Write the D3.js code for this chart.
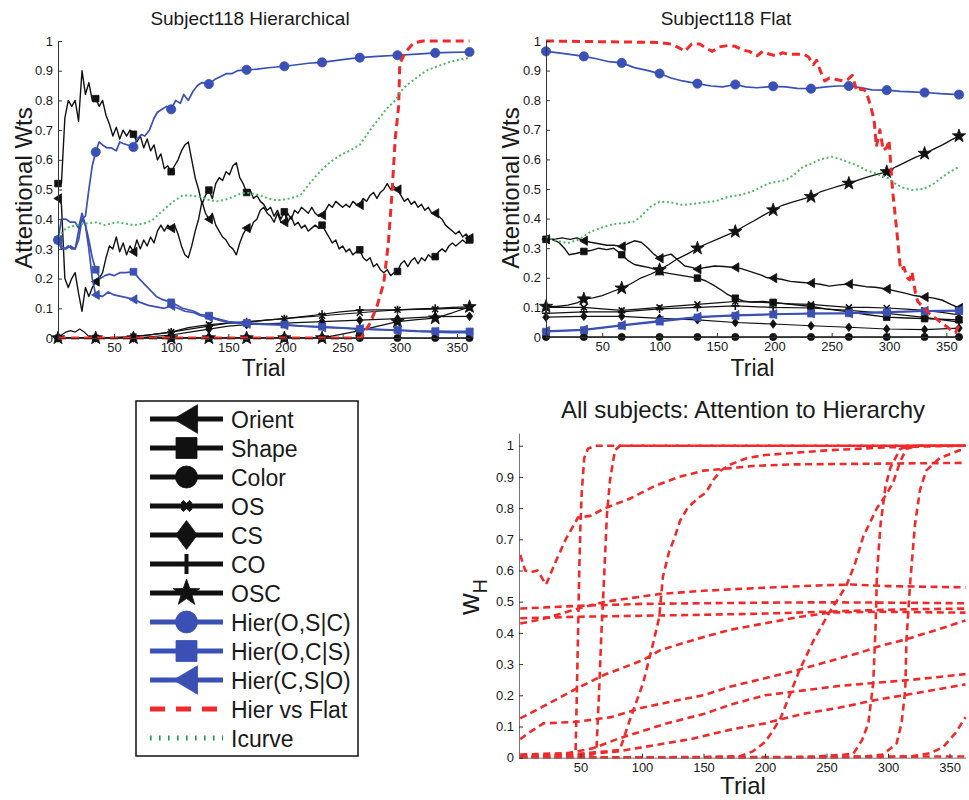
<!DOCTYPE html>
<html>
<head>
<meta charset="utf-8">
<script src="https://cdn.jsdelivr.net/npm/d3@7/dist/d3.min.js"></script>
<style>
  body { margin: 0; background: #fff; }
  svg { display: block; }
  text { font-family: "Liberation Sans", Arial, Helvetica, sans-serif; }
</style>
</head>
<body>
<svg id="fig" width="969" height="800"></svg>
<script>
// ---------- shared ticks and labels ----------
const trialTicks = [50, 100, 150, 200, 250, 300, 350];
const weightTicks = [0, 0.1, 0.2, 0.3, 0.4, 0.5, 0.6, 0.7, 0.8, 0.9, 1];
const markerTrials = [1, 34, 67, 100, 133, 166, 199, 232, 265, 298, 331, 361];
const legendLabels = ["Orient", "Shape", "Color", "OS", "CS", "CO", "OSC",
  "Hier(O,S|C)", "Hier(O,C|S)", "Hier(C,S|O)", "Hier vs Flat", "Icurve"];

// ---------- Subject118, hierarchical model ----------
// single-dimension weights, sampled every 3 trials (1, 4, ..., 361)
const hierTrials = d3.range(1, 362, 3);
const hierOrient = [.47,.45,.20,.17,.20,.22,.15,.09,.17,.14,.17,.19,.20,.22,.27,.31,.30,.34,.29,.32,.28,.31,.29,.33,.30,.33,.31,.34,.32,.36,.38,.36,.38,.37,.38,.35,.31,.28,.27,.31,.36,.40,.46,.42,.40,.42,.38,.36,.34,.33,.31,.30,.28,.32,.35,.37,.36,.39,.40,.43,.44,.42,.41,.39,.42,.39,.39,.42,.40,.43,.42,.44,.43,.42,.44,.42,.41,.414,.43,.45,.44,.46,.45,.44,.45,.44,.46,.45,.448,.47,.46,.48,.49,.47,.49,.50,.52,.50,.51,.50,.48,.46,.47,.45,.46,.44,.45,.43,.44,.42,.42,.41,.40,.38,.37,.36,.35,.36,.34,.35,.336];
const hierShape = [.52,.52,.74,.80,.78,.80,.73,.90,.82,.86,.80,.806,.78,.80,.75,.72,.68,.71,.67,.70,.68,.70,.686,.66,.68,.64,.67,.63,.65,.60,.62,.57,.58,.56,.58,.60,.63,.65,.66,.60,.54,.50,.45,.48,.498,.47,.52,.54,.53,.56,.55,.58,.59,.54,.52,.49,.50,.47,.48,.46,.45,.43,.44,.41,.43,.40,.425,.39,.41,.38,.39,.37,.38,.36,.37,.38,.37,.38,.36,.34,.32,.33,.30,.31,.29,.30,.28,.29,.297,.27,.26,.27,.24,.25,.23,.22,.23,.21,.22,.224,.25,.26,.24,.26,.27,.25,.27,.26,.28,.27,.274,.29,.30,.29,.31,.32,.31,.32,.33,.32,.33];
// [trial, weight] pairs
const hierColor = [[1,0],[361,0]];
const hierOS = [[1,0],[4,.01],[8,.02],[12,.025],[16,.02],[20,.03],[24,.02],[28,.005],[34,0],[50,0],[67,.005],[80,.01],[100,.02],[115,.035],[133,.045],[150,.05],[166,.052],[183,.06],[199,.065],[215,.07],[232,.075],[248,.08],[265,.085],[281,.09],[298,.095],[315,.096],[331,.097],[345,.1],[361,.1]];
const hierCS = [[1,0],[67,0],[84,.005],[100,.01],[116,.02],[133,.03],[150,.04],[166,.045],[199,.05],[232,.055],[265,.06],[298,.065],[331,.072],[361,.073]];
const hierCO = [[1,0],[34,0],[50,.002],[67,.005],[84,.012],[100,.02],[116,.03],[133,.04],[150,.05],[166,.055],[183,.06],[199,.065],[215,.072],[232,.08],[248,.088],[265,.094],[281,.095],[298,.095],[315,.098],[331,.1],[346,.103],[361,.105]];
const hierOSC = [[1,0],[232,0],[245,.01],[265,.025],[281,.04],[298,.055],[315,.062],[331,.067],[346,.085],[361,.105]];
const hierHosc = [[1,.33],[4,.3],[7,.3],[10,.31],[13,.3],[16,.3],[19,.36],[22,.4],[25,.41],[28,.5],[31,.58],[34,.626],[37,.66],[40,.65],[44,.64],[48,.64],[52,.63],[55,.66],[58,.655],[62,.65],[67,.643],[70,.67],[74,.685],[77,.68],[81,.7],[85,.74],[88,.76],[92,.77],[96,.78],[100,.77],[104,.8],[108,.79],[111,.82],[115,.8],[119,.83],[123,.85],[127,.86],[133,.855],[138,.87],[143,.88],[148,.89],[153,.89],[158,.9],[166,.903],[175,.905],[185,.91],[199,.915],[210,.92],[220,.925],[232,.928],[245,.935],[255,.94],[265,.944],[280,.948],[298,.952],[315,.956],[331,.96],[345,.962],[361,.963]];
const hierHocs = [[1,.33],[4,.4],[8,.4],[12,.39],[16,.39],[19,.37],[22,.42],[25,.38],[28,.33],[31,.27],[34,.23],[38,.2],[42,.21],[46,.215],[50,.21],[55,.22],[60,.22],[67,.223],[72,.2],[77,.18],[82,.16],[87,.14],[92,.13],[96,.125],[100,.12],[105,.11],[110,.1],[115,.095],[120,.09],[125,.08],[133,.075],[140,.065],[150,.055],[166,.05],[180,.048],[199,.045],[215,.04],[232,.038],[250,.034],[265,.031],[280,.029],[298,.027],[315,.024],[331,.023],[345,.022],[361,.022]];
const hierHcso = [[1,.33],[4,.31],[8,.3],[12,.31],[16,.3],[19,.33],[22,.4],[25,.38],[28,.3],[31,.2],[34,.145],[40,.14],[45,.155],[50,.145],[56,.14],[62,.135],[67,.13],[73,.12],[80,.11],[87,.105],[94,.1],[100,.108],[106,.1],[112,.09],[120,.085],[126,.075],[133,.07],[142,.06],[150,.052],[166,.048],[180,.046],[199,.043],[215,.04],[232,.036],[250,.033],[265,.03],[280,.028],[298,.026],[315,.022],[331,.02],[345,.018],[361,.018]];
const hierVsFlatH = [[1,0],[265,0],[267,.005],[274,.05],[280,.106],[286,.185],[290,.32],[293,.476],[296,.67],[299,.78],[300,.924],[305,.963],[312,.993],[320,1],[361,1]];
const icurveH = [[1,.34],[8,.37],[17,.38],[25,.385],[35,.39],[42,.38],[52,.39],[60,.385],[67,.38],[76,.385],[83,.395],[90,.42],[96,.44],[102,.46],[110,.48],[118,.48],[125,.475],[133,.465],[140,.46],[147,.465],[154,.475],[160,.485],[166,.49],[172,.485],[178,.48],[185,.47],[190,.465],[197,.465],[204,.47],[213,.48],[221,.52],[230,.56],[237,.585],[242,.6],[250,.62],[256,.63],[265,.65],[274,.7],[282,.74],[288,.77],[296,.8],[303,.84],[309,.86],[316,.88],[323,.9],[333,.915],[344,.93],[352,.937],[361,.943]];

// ---------- Subject118, flat model ----------
const flatOrient = [[1,.33],[8,.33],[15,.335],[22,.33],[28,.335],[34,.325],[40,.32],[47,.315],[54,.31],[60,.31],[67,.306],[72,.315],[78,.325],[84,.32],[90,.3],[95,.28],[100,.266],[105,.275],[110,.28],[116,.26],[122,.24],[128,.235],[133,.229],[140,.235],[148,.24],[156,.238],[166,.235],[172,.23],[180,.22],[188,.21],[194,.2],[199,.199],[206,.195],[214,.188],[222,.185],[232,.182],[240,.178],[248,.172],[256,.176],[265,.179],[272,.175],[280,.17],[288,.168],[298,.162],[306,.155],[314,.148],[322,.14],[331,.135],[338,.132],[346,.125],[354,.11],[361,.098]];
const flatShape = [[1,.33],[6,.33],[12,.32],[17,.3],[21,.278],[27,.282],[34,.289],[40,.292],[47,.3],[54,.295],[60,.3],[67,.278],[72,.26],[78,.245],[84,.24],[90,.235],[95,.23],[100,.221],[108,.215],[116,.21],[124,.205],[133,.199],[140,.19],[147,.175],[154,.158],[160,.142],[166,.131],[173,.122],[180,.118],[190,.12],[199,.117],[210,.112],[220,.108],[232,.103],[245,.095],[255,.09],[265,.085],[280,.076],[298,.067],[315,.064],[331,.062],[345,.06],[361,.058]];
const flatColor = [[1,0],[361,0]];
const flatOS = [[1,.1],[20,.1],[34,.1],[50,.095],[67,.09],[84,.095],[100,.1],[116,.105],[133,.11],[150,.115],[166,.12],[183,.118],[199,.115],[215,.112],[232,.11],[248,.105],[265,.1],[281,.1],[298,.098],[315,.094],[331,.09],[346,.083],[361,.075]];
const flatCS = [[1,.067],[34,.07],[67,.07],[100,.063],[133,.058],[166,.049],[199,.044],[232,.038],[265,.033],[298,.027],[331,.025],[361,.03]];
const flatCO = [[1,.08],[34,.085],[67,.085],[100,.095],[133,.1],[166,.105],[199,.1],[232,.098],[265,.09],[298,.08],[331,.066],[361,.05]];
const flatOSC = [[1,.103],[10,.103],[20,.108],[28,.115],[34,.128],[42,.132],[50,.14],[58,.152],[67,.165],[75,.18],[84,.2],[92,.212],[100,.227],[108,.245],[116,.265],[124,.28],[133,.3],[141,.315],[150,.33],[158,.343],[166,.356],[174,.375],[182,.392],[190,.41],[199,.429],[207,.445],[215,.455],[224,.465],[232,.474],[240,.49],[248,.5],[256,.51],[265,.519],[273,.53],[281,.54],[290,.55],[298,.558],[306,.575],[314,.59],[322,.605],[331,.62],[339,.635],[347,.65],[354,.665],[361,.679]];
const flatHosc = [[1,.965],[12,.96],[25,.953],[34,.948],[45,.94],[56,.93],[67,.926],[78,.91],[90,.9],[100,.89],[110,.875],[120,.865],[133,.856],[145,.848],[155,.845],[166,.853],[175,.845],[185,.842],[199,.847],[210,.845],[220,.84],[232,.839],[245,.845],[255,.848],[265,.848],[275,.843],[285,.835],[298,.834],[310,.83],[320,.828],[331,.826],[345,.822],[361,.819]];
const flatHocs = [[1,.018],[34,.023],[67,.038],[100,.052],[133,.066],[166,.072],[199,.076],[232,.079],[265,.08],[298,.083],[331,.087],[361,.088]];
const flatHcso = [[1,.02],[34,.025],[67,.04],[100,.055],[133,.068],[166,.074],[199,.077],[232,.08],[265,.08],[298,.085],[331,.088],[361,.09]];
const hierVsFlatF = [[1,1],[100,.995],[110,.99],[118,.975],[122,.965],[128,.99],[135,.99],[141,.975],[146,.965],[152,.98],[160,.985],[166,.982],[172,.97],[178,.965],[185,.95],[190,.965],[196,.955],[202,.95],[207,.96],[213,.955],[220,.955],[226,.955],[230,.945],[234,.92],[237,.935],[240,.9],[244,.865],[248,.875],[254,.87],[260,.865],[264,.87],[268,.884],[272,.83],[276,.84],[280,.83],[284,.78],[287,.733],[289,.643],[292,.7],[295,.63],[298,.64],[300,.665],[303,.5],[307,.35],[310,.227],[313,.235],[316,.2],[318,.193],[320,.22],[323,.15],[325,.12],[330,.1],[335,.08],[345,.05],[352,.03],[355,.02],[358,.015],[361,.04]];
const icurveF = [[1,.339],[10,.325],[20,.317],[30,.33],[40,.356],[50,.37],[60,.382],[70,.385],[78,.39],[85,.412],[92,.44],[100,.457],[110,.455],[120,.446],[130,.45],[140,.455],[150,.46],[160,.474],[170,.48],[180,.49],[195,.519],[210,.53],[218,.55],[225,.575],[232,.585],[240,.6],[250,.609],[258,.6],[265,.59],[272,.58],[280,.564],[290,.55],[298,.54],[305,.519],[312,.505],[320,.497],[330,.5],[338,.515],[345,.536],[352,.555],[361,.575]];

// ---------- all subjects: w_H per trial ----------
const subjA = [[1,.65],[5,.6],[10,.595],[15,.6],[22,.555],[30,.63],[38,.7],[48,.77],[58,.775],[70,.8],[90,.83],[110,.87],[130,.9],[150,.92],[165,.925],[190,.935],[220,.94],[280,.942],[363,.945]];
const subjB = [[1,.003],[40,.01],[46,.02],[47,.2],[48,.4],[49,.6],[50,.75],[51,.85],[53,.96],[56,.99],[62,1],[363,1]];
const subjC = [[1,0],[40,.005],[60,.01],[63,.03],[65,.2],[67,.4],[68.5,.52],[70,.65],[71.5,.78],[74,.89],[78,.985],[82,1],[363,1]];
const subjD = [[1,.005],[40,.01],[70,.02],[82,.025],[90,.12],[101,.24],[109,.366],[114,.45],[117,.58],[122,.66],[126,.7],[131,.76],[137,.8],[145,.83],[152,.85],[158,.89],[164,.92],[172,.94],[185,.96],[200,.97],[250,.985],[300,.995],[363,1]];
const subjE = [[1,.126],[20,.165],[47,.222],[69,.265],[101,.313],[115,.345],[144,.38],[172,.41],[199,.43],[226,.45],[253,.465],[290,.468],[330,.466],[363,.465]];
const subjF = [[1,.478],[50,.487],[100,.493],[150,.495],[200,.497],[250,.498],[300,.497],[363,.495]];
const subjG = [[1,.43],[20,.445],[50,.48],[70,.5],[115,.525],[150,.535],[200,.545],[250,.553],[270,.555],[300,.55],[363,.546]];
const subjH = [[1,.447],[50,.452],[100,.455],[150,.458],[200,.462],[250,.468],[280,.472],[320,.476],[363,.478]];
const subjI = [[1,.059],[8,.08],[20,.11],[47,.115],[75,.13],[100,.16],[130,.185],[150,.2],[172,.228],[200,.255],[226,.28],[253,.31],[280,.34],[291,.355],[315,.38],[340,.41],[363,.44]];
const subjJ = [[1,.01],[40,.015],[60,.03],[80,.06],[100,.085],[120,.11],[150,.14],[172,.17],[200,.2],[230,.215],[260,.23],[290,.24],[320,.25],[363,.268]];
const subjK = [[1,.003],[50,.01],[80,.02],[110,.04],[140,.06],[172,.09],[200,.11],[230,.14],[260,.16],[290,.185],[320,.205],[363,.235]];
const subjL = [[1,0],[150,.002],[180,.005],[190,.02],[200,.05],[207,.09],[213,.13],[220,.2],[228,.28],[240,.38],[253,.47],[266,.55],[273,.62],[280,.71],[291,.8],[298,.84],[304,.88],[310,.95],[315,.99],[325,1],[363,1]];
const subjM = [[1,0],[200,0],[240,.003],[265,.01],[272,.014],[279,.057],[284,.11],[288,.24],[290,.43],[291,.59],[294,.75],[298,.87],[302,.93],[310,.99],[321,1],[363,1]];
const subjN = [[1,0],[250,0],[285,.005],[296,.01],[307,.046],[311,.11],[314,.217],[315,.377],[318,.56],[322,.75],[326,.858],[331,.92],[342,.96],[358,.985],[363,.986]];
const subjO = [[1,0],[300,.002],[320,.005],[335,.015],[345,.035],[355,.08],[363,.13]];
const subjP = [[1,0],[363,.004]];

// ---------- drawing ----------
const svg = d3.select("#fig");
const BLACK = "#111", BLUE = "#3a50b4", RED = "#f02a2a", GREEN = "#50b864", GREEN_DARK = "#1e9a48";
const FONT = '"Liberation Sans", Arial, Helvetica, sans-serif';

function starPath(R) {
  let p = "";
  for (let i = 0; i < 10; i++) {
    const r = i % 2 ? R * 0.4 : R;
    const a = -Math.PI / 2 + i * Math.PI / 5;
    p += (i ? "L" : "M") + (r * Math.cos(a)).toFixed(2) + "," + (r * Math.sin(a)).toFixed(2);
  }
  return p + "Z";
}
function markerPath(type, r) {
  switch (type) {
    case "circle": return d3.symbol(d3.symbolCircle, Math.PI * r * r)();
    case "square": return `M${-r},${-r}H${r}V${r}H${-r}Z`;
    case "triL": return `M${-r},0L${r * 0.85},${-r * 1.1}L${r * 0.85},${r * 1.1}Z`;
    case "diamond": return `M0,${-r * 1.2}L${r * 0.9},0L0,${r * 1.2}L${-r * 0.9},0Z`;
    case "star": return starPath(r);
    case "times": return `M${-r},${-r}L${r},${r}M${-r},${r}L${r},${-r}`;
    case "plus": return `M0,${-r}V${r}M${-r},0H${r}`;
  }
}
function drawMarker(g, type, cx, cy, r, color, sw) {
  const stroked = type === "times" || type === "plus";
  g.append("path")
    .attr("transform", `translate(${cx},${cy})`)
    .attr("d", markerPath(type, r))
    .attr("fill", stroked ? "none" : color)
    .attr("stroke", color)
    .attr("stroke-width", stroked ? sw : 0.8);
}
function valueAt(pts, t) {
  for (let i = 0; i < pts.length - 1; i++) {
    const [t0, v0] = pts[i], [t1, v1] = pts[i + 1];
    if (t >= t0 && t <= t1) return t1 === t0 ? v0 : v0 + (v1 - v0) * (t - t0) / (t1 - t0);
  }
  return pts[pts.length - 1][1];
}

// style for each legend entry (drawing order follows the legend)
const seriesStyles = [
  { color: BLACK, width: 1.4, marker: "triL", r: 4.2 },
  { color: BLACK, width: 1.4, marker: "square", r: 3.3 },
  { color: BLACK, width: 1.3, marker: "circle", r: 3.6 },
  { color: BLACK, width: 1.2, marker: "times", r: 3, sw: 1.6 },
  { color: BLACK, width: 1.2, marker: "diamond", r: 3.6 },
  { color: BLACK, width: 1.2, marker: "plus", r: 4, sw: 1.6 },
  { color: BLACK, width: 1.3, marker: "star", r: 7 },
  { color: BLUE, width: 1.7, marker: "circle", r: 4.6 },
  { color: BLUE, width: 1.7, marker: "square", r: 3.4 },
  { color: BLUE, width: 1.7, marker: "triL", r: 4.2 },
  { color: RED, width: 3, dash: "8,5" },
  { color: GREEN, width: 2, dash: "2,2.6" }
];

function drawAxes(g, x, y, yMaxTick) {
  const fmt = d => (d === 0 || d === 1) ? String(d) : d.toFixed(1);
  const xa = g.append("g").attr("transform", `translate(0,${y(0)})`)
    .call(d3.axisBottom(x).tickValues(trialTicks).tickSizeInner(-4).tickSizeOuter(0).tickPadding(5).tickFormat(d3.format("d")));
  const ya = g.append("g").attr("transform", `translate(${x.range()[0]},0)`)
    .call(d3.axisLeft(y).tickValues(weightTicks.filter(v => v <= yMaxTick)).tickSizeInner(-4).tickSizeOuter(0).tickPadding(5).tickFormat(fmt));
  [xa, ya].forEach(a => {
    a.attr("font-family", FONT).attr("font-size", 13);
    a.selectAll("text").attr("fill", "#1a1a1a");
    a.select(".domain").attr("stroke", "#333").attr("stroke-width", 1);
    a.selectAll(".tick line").attr("stroke", "#333");
  });
}

function drawSubjectPanel(series, x, y, title, titleX, ylabelX) {
  const g = svg.append("g");
  const line = d3.line().x(d => x(d[0])).y(d => y(d[1]));
  series.forEach((pts, i) => {
    const st = seriesStyles[i];
    g.append("path").attr("d", line(pts)).attr("fill", "none")
      .attr("stroke", st.color).attr("stroke-width", st.width)
      .attr("stroke-dasharray", st.dash || null).attr("stroke-linejoin", "round");
    if (st.marker) markerTrials.forEach(t => drawMarker(g, st.marker, x(t), y(valueAt(pts, t)), st.r, st.color, st.sw));
  });
  drawAxes(g, x, y, 1);
  g.append("text").attr("x", titleX).attr("y", 25).attr("text-anchor", "middle").attr("font-size", 19).attr("fill", "#1a1a1a").text(title);
  g.append("text").attr("x", (x.range()[0] + x.range()[1]) / 2).attr("y", 376).attr("text-anchor", "middle").attr("font-size", 23).attr("fill", "#1a1a1a").text("Trial");
  g.append("text").attr("transform", `translate(${ylabelX},188) rotate(-90)`).attr("text-anchor", "middle").attr("font-size", 24).attr("fill", "#1a1a1a").text("Attentional Wts");
}

const asPairs = vals => hierTrials.map((t, i) => [t, vals[i]]).filter(d => d[1] !== undefined);

// Hierarchical panel
const xH = d3.scaleLinear().domain([1, 361]).range([58, 469.5]);
const yH = d3.scaleLinear().domain([0, 1]).range([338, 41]);
drawSubjectPanel([asPairs(hierOrient), asPairs(hierShape), hierColor, hierOS, hierCS, hierCO, hierOSC,
  hierHosc, hierHocs, hierHcso, hierVsFlatH, icurveH], xH, yH, "Subject118 Hierarchical", 250, 32);

// Flat panel
const xF = d3.scaleLinear().domain([1, 361]).range([546, 959]);
const yF = d3.scaleLinear().domain([0, 1]).range([337, 41]);
drawSubjectPanel([flatOrient, flatShape, flatColor, flatOS, flatCS, flatCO, flatOSC,
  flatHosc, flatHocs, flatHcso, hierVsFlatF, icurveF], xF, yF, "Subject118 Flat", 726, 519);

// ---------- legend ----------
const leg = svg.append("g");
leg.append("rect").attr("x", 136).attr("y", 401).attr("width", 222).attr("height", 355)
  .attr("fill", "#fff").attr("stroke", "#111").attr("stroke-width", 1.5);
const legendMarkers = [
  { marker: "triL", r: 13 }, { marker: "square", r: 10.5 }, { marker: "circle", r: 11 },
  { marker: "times", r: 4.5, sw: 4 }, { marker: "diamond", r: 12 }, { marker: "plus", r: 10, sw: 4 },
  { marker: "star", r: 14 }, { marker: "circle", r: 11 }, { marker: "square", r: 10.5 },
  { marker: "triL", r: 13 }, {}, {}
];
legendLabels.forEach((lab, i) => {
  const cy = 419 + i * 29.0;
  const st = seriesStyles[i];
  const isRed = i === 10, isGreen = i === 11;
  leg.append("line").attr("x1", 150).attr("x2", 223).attr("y1", cy).attr("y2", cy)
    .attr("stroke", isGreen ? GREEN_DARK : st.color)
    .attr("stroke-width", 5)
    .attr("stroke-dasharray", isRed ? "15,11" : isGreen ? "1.6,7.4" : null);
  const lm = legendMarkers[i];
  if (lm.marker) drawMarker(leg, lm.marker, 186.5, cy, lm.r, st.color, lm.sw);
  leg.append("text").attr("x", 231).attr("y", cy + 8.5).attr("font-size", 23).attr("fill", "#1a1a1a").text(lab);
});

// ---------- all subjects panel ----------
const xA = d3.scaleLinear().domain([0, 363]).range([519, 965.5]);
const yA = d3.scaleLinear().domain([0, 1.04]).range([757.7, 757.7 - 312 * 1.04]);
const gA = svg.append("g");
const lineA = d3.line().x(d => xA(d[0])).y(d => yA(d[1]));
[subjA, subjB, subjC, subjD, subjE, subjF, subjG, subjH, subjI, subjJ, subjK, subjL, subjM, subjN, subjO, subjP]
  .forEach(pts => gA.append("path").attr("d", lineA(pts)).attr("fill", "none")
    .attr("stroke", RED).attr("stroke-width", 2.6).attr("stroke-dasharray", "7,4.5"));
drawAxes(gA, xA, yA, 1);
gA.selectAll(".domain").attr("stroke", "#777");
gA.append("text").attr("x", 743).attr("y", 418).attr("text-anchor", "middle").attr("font-size", 24).attr("fill", "#1a1a1a")
  .text("All subjects: Attention to Hierarchy");
gA.append("text").attr("x", 743).attr("y", 794).attr("text-anchor", "middle").attr("font-size", 24).attr("fill", "#1a1a1a").text("Trial");
const wl = gA.append("text").attr("transform", "translate(479,597) rotate(-90)").attr("text-anchor", "middle").attr("fill", "#1a1a1a");
wl.append("tspan").attr("font-size", 30).text("w");
wl.append("tspan").attr("font-size", 20).attr("dy", 8).text("H");
</script>
</body>
</html>
